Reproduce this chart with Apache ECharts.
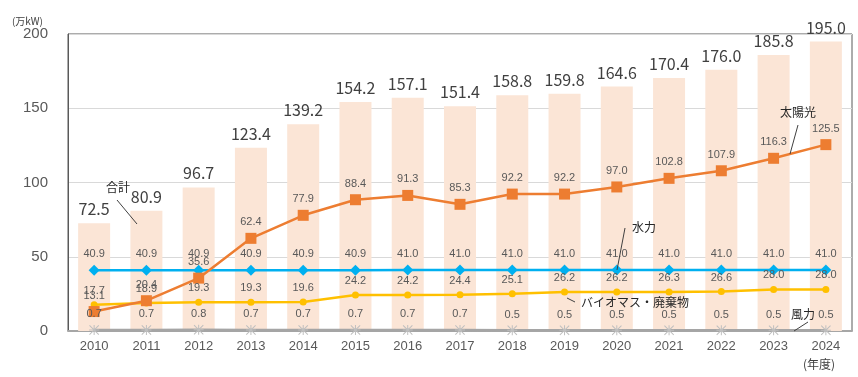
<!DOCTYPE html>
<html>
<head>
<meta charset="utf-8">
<script src="https://cdn.jsdelivr.net/npm/echarts@6/dist/echarts.min.js"></script>
<style>
html,body{margin:0;padding:0;background:#fff;}
#main{width:858px;height:377px;}
</style>
</head>
<body>
<div id="main"></div>
<script>
var years = ['2010','2011','2012','2013','2014','2015','2016','2017','2018','2019','2020','2021','2022','2023','2024'];
var total = [72.5, 80.9, 96.7, 123.4, 139.2, 154.2, 157.1, 151.4, 158.8, 159.8, 164.6, 170.4, 176.0, 185.8, 195.0];
var solar = [13.1, 20.4, 35.6, 62.4, 77.9, 88.4, 91.3, 85.3, 92.2, 92.2, 97.0, 102.8, 107.9, 116.3, 125.5];
var hydro = [40.9, 40.9, 40.9, 40.9, 40.9, 40.9, 41.0, 41.0, 41.0, 41.0, 41.0, 41.0, 41.0, 41.0, 41.0];
var biomass = [17.7, 18.9, 19.3, 19.3, 19.6, 24.2, 24.2, 24.4, 25.1, 26.2, 26.2, 26.3, 26.6, 28.0, 28.0];
var wind = [0.7, 0.7, 0.8, 0.7, 0.7, 0.7, 0.7, 0.7, 0.5, 0.5, 0.5, 0.5, 0.5, 0.5, 0.5];

var chart = echarts.init(document.getElementById('main'));

// asterisk marker for wind
var starPath = 'path://M0,4.5L10,4.5L10,5.5L0,5.5Z M4.5,0L5.5,0L5.5,10L4.5,10Z M0.7,0L10,9.3L9.3,10L0,0.7Z M9.3,0L10,0.7L0.7,10L0,9.3Z';

function fmt(p){ return p.value.toFixed(1); }

var smallLabel = {
	show: true,
	position: 'top',
	distance: 5,
	formatter: fmt,
	color: '#595959',
	fontSize: 11,
	fontFamily: 'Liberation Sans, Arial, sans-serif'
};

var noteFont = '12px "Noto Sans CJK JP"';

var option = {
	animation: false,
	grid: {
		left: 68, right: 6, top: 34, bottom: 46,
		show: true,
		borderColor: '#595959',
		borderWidth: 1
	},
	xAxis: {
		type: 'category',
		data: years,
		axisLine: {lineStyle: {color: '#A6A6A6', width: 2}},
		axisTick: {show: false},
		axisLabel: {color: '#595959', fontSize: 13, margin: 9, fontFamily: 'Liberation Sans, Arial, sans-serif'}
	},
	yAxis: {
		type: 'value',
		min: 0, max: 200, interval: 50,
		name: '(万kW)',
		nameLocation: 'end',
		nameGap: 6,
		nameTextStyle: {color: '#404040', fontSize: 10, align: 'right', padding: [0, 25, 0, 0], fontFamily: 'Noto Sans CJK JP'},
		axisLine: {show: true, lineStyle: {color: '#595959', width: 1}},
		axisTick: {show: false},
		axisLabel: {color: '#595959', fontSize: 15, margin: 20, fontFamily: 'Liberation Sans, Arial, sans-serif'},
		splitLine: {lineStyle: {color: '#D9D9D9'}}
	},
	series: [
		{
			name: '合計',
			type: 'bar',
			data: total,
			barWidth: 32,
			itemStyle: {color: '#FBE5D6'},
			label: {
				show: true,
				position: 'top',
				distance: 6,
				formatter: fmt,
				color: '#404040',
				fontSize: 16,
				fontFamily: 'Noto Sans CJK JP'
			}
		},
		{
			name: '風力',
			type: 'line',
			data: wind,
			symbol: starPath,
			symbolSize: 10,
			lineStyle: {color: '#A5A5A5', width: 2.5},
			itemStyle: {color: '#BFBFBF'},
			label: smallLabel
		},
		{
			name: 'バイオマス・廃棄物',
			type: 'line',
			data: biomass,
			symbol: 'circle',
			symbolSize: 7,
			lineStyle: {color: '#FFC000', width: 2.5},
			itemStyle: {color: '#FFC000'},
			label: smallLabel
		},
		{
			name: '水力',
			type: 'line',
			data: hydro,
			symbol: 'diamond',
			symbolSize: 11,
			lineStyle: {color: '#00B0F0', width: 2.5},
			itemStyle: {color: '#00B0F0'},
			label: smallLabel
		},
		{
			name: '太陽光',
			type: 'line',
			data: solar,
			symbol: 'rect',
			symbolSize: 11,
			lineStyle: {color: '#ED7D31', width: 2.5},
			itemStyle: {color: '#ED7D31'},
			label: smallLabel
		}
	],
	graphic: [
		{type: 'text', z: 100, left: 106, top: 181, style: {text: '合計', fill: '#262626', font: noteFont}},
		{type: 'line', z: 100, shape: {x1: 117, y1: 200, x2: 137, y2: 224}, style: {stroke: '#404040', lineWidth: 1}},
		{type: 'text', z: 100, left: 780, top: 106, style: {text: '太陽光', fill: '#262626', font: noteFont}},
		{type: 'line', z: 100, shape: {x1: 798, y1: 125, x2: 790, y2: 154}, style: {stroke: '#404040', lineWidth: 1}},
		{type: 'text', z: 100, left: 632, top: 221, style: {text: '水力', fill: '#262626', font: noteFont}},
		{type: 'line', z: 100, shape: {x1: 625, y1: 228, x2: 617, y2: 270}, style: {stroke: '#404040', lineWidth: 1}},
		{type: 'text', z: 100, left: 581, top: 296, style: {text: 'バイオマス・廃棄物', fill: '#262626', font: noteFont}},
		{type: 'line', z: 100, shape: {x1: 567, y1: 298, x2: 575, y2: 302}, style: {stroke: '#404040', lineWidth: 1}},
		{type: 'text', z: 100, left: 791, top: 308, style: {text: '風力', fill: '#262626', font: noteFont}},
		{type: 'line', z: 100, shape: {x1: 808, y1: 322, x2: 794, y2: 331}, style: {stroke: '#404040', lineWidth: 1}},
		{type: 'text', z: 100, left: 803, top: 358, style: {text: '(年度)', fill: '#404040', font: noteFont}}
	]
};

chart.setOption(option);
</script>
</body>
</html>
